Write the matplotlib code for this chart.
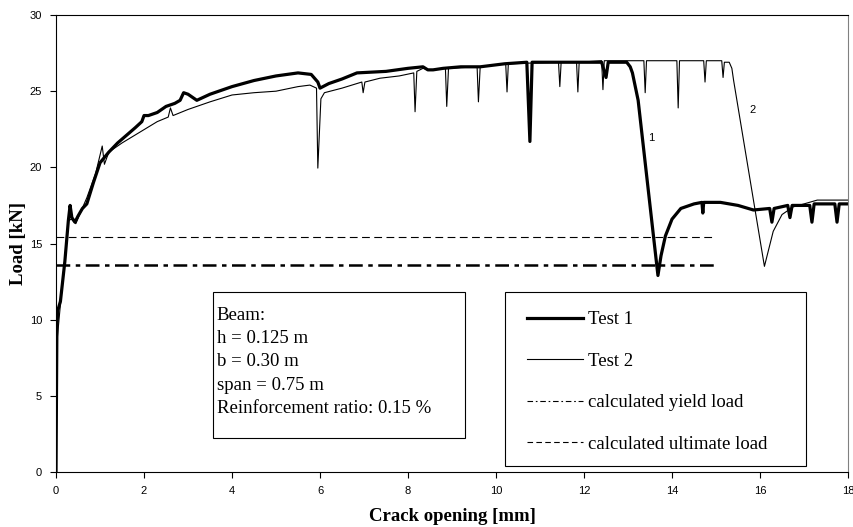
import matplotlib
matplotlib.use("Agg")
import matplotlib.pyplot as plt
from matplotlib.patches import Rectangle
from matplotlib.lines import Line2D

# Test 1 (thick curve)
t1_x = [0, 0.01, 0.02, 0.04, 0.1, 0.2, 0.28, 0.32, 0.36, 0.43, 0.5, 0.6,
        0.7, 0.85, 1.0, 1.2, 1.4, 1.6, 1.8, 1.95, 2.0, 2.1, 2.3, 2.5, 2.7, 2.82,
        2.9, 3.0, 3.2, 3.5, 4.0, 4.5, 5.0, 5.5, 5.8, 5.95, 6.0, 6.2, 6.5, 6.84,
        7.5, 8.0, 8.34, 8.45, 8.57, 8.8, 9.2, 9.64, 10.2, 10.7, 10.77, 10.82,
        11.2, 11.9, 12.4, 12.5, 12.55, 12.97, 13.05, 13.1, 13.23, 13.57, 13.68,
        13.75, 13.85, 14.0, 14.2, 14.5, 14.68, 14.7, 14.72, 15.1, 15.5, 15.85,
        16.22, 16.27, 16.32, 16.63, 16.68, 16.73, 17.13, 17.18, 17.23, 17.7,
        17.75, 17.8, 18.0]
t1_y = [0, 5.0, 9.5, 10.6, 11.2, 13.8, 16.5, 17.5, 16.7, 16.4, 16.8, 17.3,
        17.6, 19.0, 20.3, 21.0, 21.6, 22.1, 22.6, 23.0, 23.4, 23.4, 23.6, 24.0,
        24.2, 24.4, 24.9, 24.8, 24.4, 24.8, 25.3, 25.7, 26.0, 26.2, 26.1, 25.6,
        25.2, 25.5, 25.8, 26.2, 26.3, 26.5, 26.6, 26.4, 26.4, 26.5, 26.6, 26.6,
        26.8, 26.9, 21.7, 26.9, 26.9, 26.9, 26.9, 25.9, 26.9, 26.9, 26.6, 26.2,
        24.4, 15.7, 12.9, 14.2, 15.5, 16.6, 17.3, 17.6, 17.7, 17.0, 17.7, 17.7,
        17.5, 17.2, 17.3, 16.4, 17.3, 17.5, 16.7, 17.5, 17.5, 16.4, 17.6, 17.6,
        16.4, 17.6, 17.6]

# Test 2 (thin curve)
t2_x = [0, 0.01, 0.02, 0.1, 0.2, 0.28, 0.35, 0.45, 0.55, 0.7, 0.9, 1.05, 1.1,
        1.2, 1.5, 1.9, 2.3, 2.55, 2.6, 2.66, 3.0, 3.5, 4.0, 4.5, 5.0, 5.5, 5.77,
        5.92, 5.95, 6.02, 6.1, 6.5, 6.95, 6.98, 7.02, 7.36, 7.8, 8.13, 8.16, 8.2,
        8.34, 8.5, 8.85, 8.88, 8.92, 9.57, 9.6, 9.64, 10.22, 10.25, 10.28, 11.42,
        11.45, 11.48, 11.83, 11.86, 11.89, 12.4, 12.43, 12.46, 13.36, 13.39,
        13.42, 14.11, 14.14, 14.17, 14.72, 14.75, 14.78, 15.13, 15.16, 15.19,
        15.3, 15.36, 15.4, 16.1, 16.3, 16.5, 16.75, 17.0, 17.3, 18.0]
t2_y = [0, 5.0, 8.5, 11.0, 14.0, 16.5, 16.6, 16.3, 17.0, 18.0, 19.6, 21.4, 20.2,
        21.0, 21.6, 22.3, 23.0, 23.3, 23.9, 23.4, 23.8, 24.3, 24.75, 24.9, 25.0,
        25.3, 25.4, 25.2, 19.95, 24.5, 24.9, 25.2, 25.6, 24.9, 25.6, 25.85, 26.0,
        26.2, 23.65, 26.3, 26.5, 26.4, 26.5, 24.0, 26.5, 26.6, 24.3, 26.6, 26.8,
        24.95, 26.8, 26.9, 25.3, 26.9, 26.9, 24.95, 26.9, 27.0, 25.1, 27.0, 27.0,
        24.9, 27.0, 27.0, 23.9, 27.0, 27.0, 25.6, 27.0, 27.0, 25.9, 26.9, 26.9,
        26.5, 25.7, 13.5, 15.8, 16.9, 17.4, 17.6, 17.85, 17.85]

# calculated loads
yield_load = 13.6
ultimate_load = 15.43
calc_x = [0, 15]

beam_text = ["Beam:", "h = 0.125 m", "b = 0.30 m", "span = 0.75 m",
             "Reinforcement ratio: 0.15 %"]

serif = "Liberation Serif"
sans = "Liberation Sans"

fig = plt.figure(figsize=(8.54, 5.27), dpi=100)
ax = fig.add_axes([0.0656, 0.1044, 0.9274, 0.8671])

ax.plot(t1_x, t1_y, color="black", lw=2.3, solid_joinstyle="round")
ax.plot(t2_x, t2_y, color="black", lw=0.8)
ax.plot(calc_x, [yield_load] * 2, color="black", lw=1.8, dashes=(5.5, 2.2, 1.8, 2.2))
ax.plot(calc_x, [ultimate_load] * 2, color="black", lw=0.8, dashes=(7, 4))

ax.text(13.45, 21.7, "1", fontsize=8, family=sans)
ax.text(15.75, 23.6, "2", fontsize=8, family=sans)

ax.set_xlim(0, 18)
ax.set_ylim(0, 30)
ax.set_xticks(range(0, 19, 2))
ax.set_yticks(range(0, 31, 5))
ax.tick_params(labelsize=8, length=4, width=0.8, direction="out", pad=6)
for lbl in ax.get_xticklabels() + ax.get_yticklabels():
    lbl.set_family(sans)
ax.spines["right"].set_color("#808080")
ax.set_xlabel("Crack opening [mm]", family=serif, fontweight="bold", fontsize=13.5, labelpad=9)
ax.set_ylabel("Load [kN]", family=serif, fontweight="bold", fontsize=13.5, labelpad=2)

# beam info box
ax.add_patch(Rectangle((0.198, 0.074), 0.318, 0.32, transform=ax.transAxes,
                       fill=False, edgecolor="black", lw=0.8))
ax.text(0.203, 0.362, "\n".join(beam_text), transform=ax.transAxes, va="top",
        ha="left", family=serif, fontsize=13.5, linespacing=1.49)

# legend box
ax.add_patch(Rectangle((0.567, 0.013), 0.38, 0.381, transform=ax.transAxes,
                       fill=False, edgecolor="black", lw=0.8))
handles = [Line2D([], [], color="black", lw=2.3),
           Line2D([], [], color="black", lw=0.8),
           Line2D([], [], color="black", lw=0.8, dashes=(5, 2.5, 1.5, 2.5)),
           Line2D([], [], color="black", lw=0.8, dashes=(5, 3))]
ax.legend(handles, ["Test 1", "Test 2", "calculated yield load", "calculated ultimate load"],
          loc="upper left", bbox_to_anchor=(0.576, 0.385), frameon=False,
          prop={"family": serif, "size": 13.5}, handlelength=3.0, handletextpad=0.25,
          labelspacing=1.3, borderpad=0.3)

fig.savefig("out.png", dpi=100)
